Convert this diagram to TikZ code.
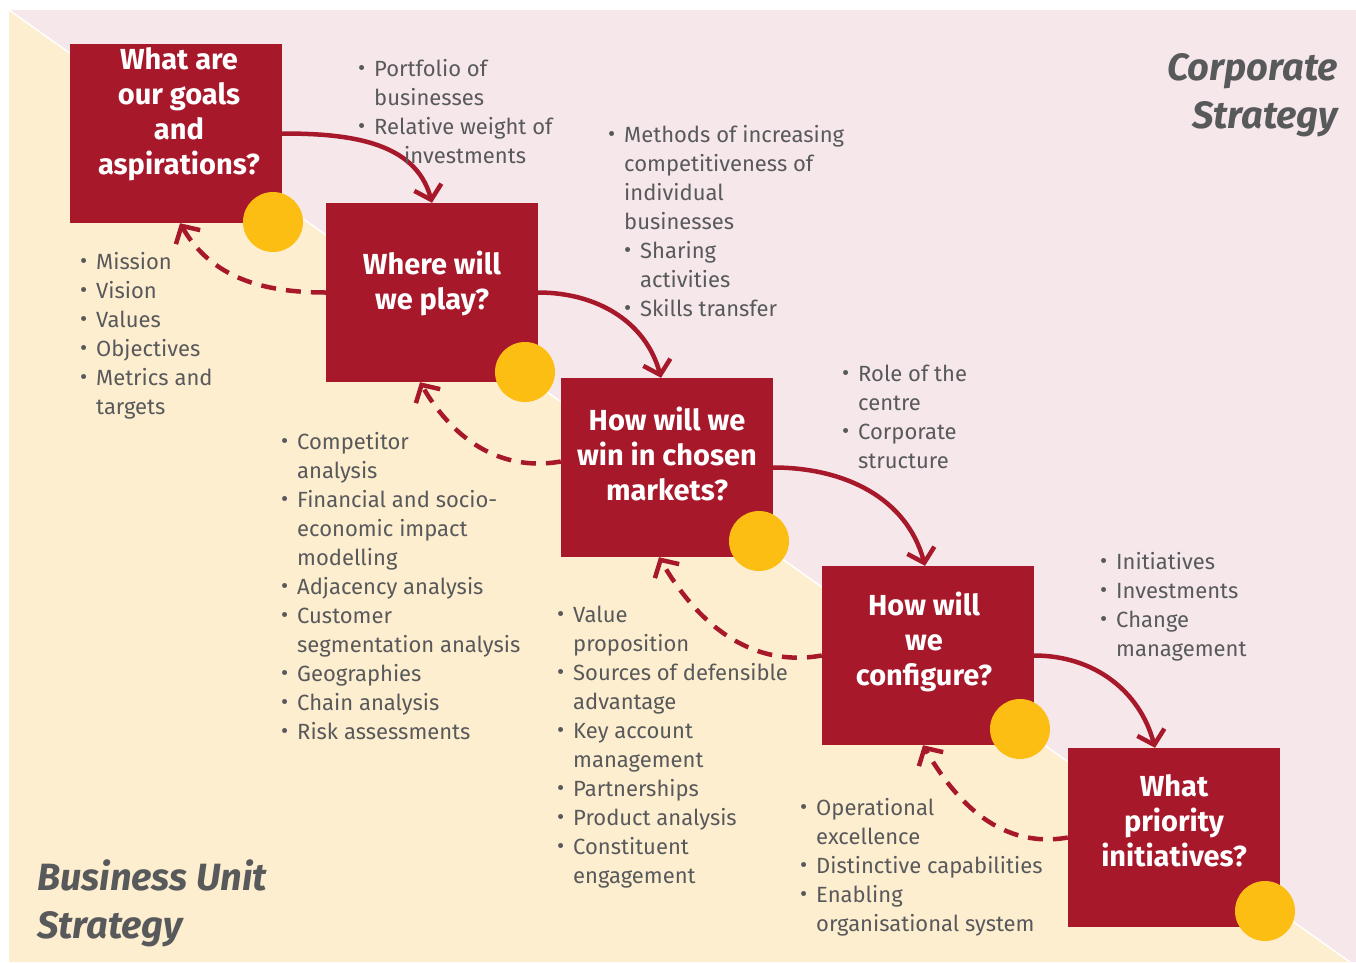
\documentclass[tikz,border=0pt]{standalone}
\usepackage{fontspec}
\setmainfont{Fira Sans}
\usetikzlibrary{arrows.meta}

\definecolor{boxred}{HTML}{A8182B}
\definecolor{dotyellow}{HTML}{FDBE14}
\definecolor{corpbg}{HTML}{F6E8EA}
\definecolor{unitbg}{HTML}{FEEED0}
\definecolor{textgrey}{HTML}{58595B}

\newcommand{\bul}{\rule{0pt}{18pt}\makebox[16pt][l]{\raisebox{0.5pt}{\textbullet}}}
\newcommand{\ind}{\hspace*{16pt}}

\tikzset{
  qbox/.style={fill=boxred, minimum width=212pt, minimum height=179pt, inner sep=0pt},
  qtext/.style={text=white, align=center, inner sep=0pt, font=\bfseries\fontsize{29}{35}\selectfont},
  dot/.style={circle, fill=dotyellow, minimum size=60pt, inner sep=0pt},
  notes/.style={anchor=north west, align=left, inner sep=0pt, text=textgrey, font=\fontsize{22}{29}\selectfont},
  heading/.style={inner sep=0pt, text=textgrey, font=\bfseries\itshape\fontsize{38}{48}\selectfont},
  fwd/.style={draw=boxred, line width=4.5pt, -{Straight Barb[length=13pt,width=28pt]}},
  back/.style={fwd, dash pattern=on 15pt off 10pt},
}

\begin{document}
\begin{tikzpicture}[x=1pt, y=-1pt]
  \useasboundingbox (0,0) rectangle (1356,962);
  % background halves
  \fill[corpbg] (9,10) rectangle (1356,962);
  \fill[unitbg] (9,10) -- (1350,962) -- (9,962) -- cycle;
  \draw[white, line width=1.5pt] (9,10) -- (1350,962);

  % headings
  \node[heading, anchor=base east, align=right] (corporate) at (1338,128) {Corporate\\Strategy};
  \node[heading, anchor=base west, align=left] (unit) at (37,938) {Business Unit\\Strategy};

  % question boxes
  \node[qbox] (goals) at (176,133.5) {};
  \node[qbox] (play) at (432,292.5) {};
  \node[qbox] (win) at (667,467.5) {};
  \node[qbox] (configure) at (928,655.5) {};
  \node[qbox] (priority) at (1174,837.5) {};

  \node[qtext] (goalsT) at ([xshift=3,yshift=19]goals.center) {What are\\our goals\\and\\aspirations?};
  \node[qtext] (playT) at ([yshift=9]play.center) {Where will\\we play?};
  \node[qtext] (winT) at ([yshift=14]win.center) {How will we\\win in chosen\\markets?};
  \node[qtext] (configureT) at ([xshift=-4,yshift=14]configure.center) {How will\\we\\configure?};
  \node[qtext] (priorityT) at ([yshift=17]priority.center) {What\\priority\\initiatives?};

  % forward arrows
  \draw[fwd] (goals.east) to[out=0, in=105] (play.north);
  \draw[fwd] (play.east) to[out=0, in=105] ([xshift=-6]win.north);
  \draw[fwd] (win.east) to[out=0, in=105] ([xshift=-3]configure.north);
  \draw[fwd] (configure.east) to[out=0, in=105] ([xshift=-19]priority.north);

  % feedback arrows
  \draw[back] (play.west) to[out=180, in=-60] ([xshift=4]goals.south);
  \draw[back] ([yshift=6]win.west) to[out=190, in=-60] ([xshift=-12]play.south);
  \draw[back] (configure.west) to[out=190, in=-60] ([xshift=-8]win.south);
  \draw[back] (priority.west) to[out=190, in=-60] ([xshift=-5]configure.south);

  % yellow dots
  \node[dot] (dot1) at (273,222) {};
  \node[dot] (dot2) at (525,372) {};
  \node[dot] (dot3) at (759,541) {};
  \node[dot] (dot4) at (1020,729) {};
  \node[dot] (dot5) at (1265,911) {};

  % notes
  \node[notes] (portfolio) at (358,58) {\bul Portfolio of\\\ind businesses\\\bul Relative weight of\\\ind\hspace*{30pt}investments};
  \node[notes] (methods) at (608,124) {\bul Methods of increasing\\\ind competitiveness of\\\ind individual\\\ind businesses\\\ind\bul Sharing\\\ind\ind activities\\\ind\bul Skills transfer};
  \node[notes] (mission) at (80,251) {\bul Mission\\\bul Vision\\\bul Values\\\bul Objectives\\\bul Metrics and\\\ind targets};
  \node[notes] (competitor) at (281,431) {\bul Competitor\\\ind analysis\\\bul Financial and socio-\\\ind economic impact\\\ind modelling\\\bul Adjacency analysis\\\bul Customer\\\ind segmentation analysis\\\bul Geographies\\\bul Chain analysis\\\bul Risk assessments};
  \node[notes] (centre) at (842,363) {\bul Role of the\\\ind centre\\\bul Corporate\\\ind structure};
  \node[notes] (value) at (557,604) {\bul Value\\\ind proposition\\\bul Sources of defensible\\\ind advantage\\\bul Key account\\\ind management\\\bul Partnerships\\\bul Product analysis\\\bul Constituent\\\ind engagement};
  \node[notes] (initiatives) at (1100,551) {\bul Initiatives\\\bul Investments\\\bul Change\\\ind management};
  \node[notes] (operational) at (800,797) {\bul Operational\\\ind excellence\\\bul Distinctive capabilities\\\bul Enabling\\\ind organisational system};
\end{tikzpicture}
\end{document}
